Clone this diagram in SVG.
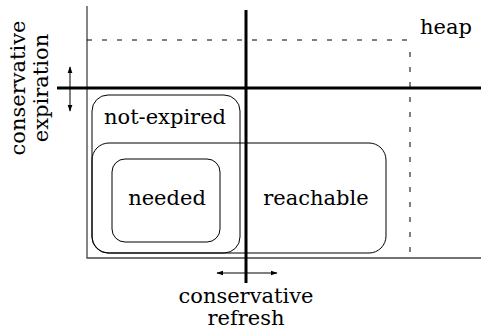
<svg xmlns="http://www.w3.org/2000/svg" width="481" height="330" viewBox="0 0 481 330">
<defs>
<marker id="ah" viewBox="0 0 10 10" refX="9" refY="5" markerWidth="7" markerHeight="7" orient="auto-start-reverse" markerUnits="userSpaceOnUse">
<path d="M0,1.5 L10,5 L0,8.5 z" fill="#000"/>
</marker>
<style>
text{font-family:"DejaVu Serif",serif;font-size:21px;fill:#000}
.ax{stroke:#444;stroke-width:1.3;fill:none}
.thick{stroke:#000;stroke-width:3;fill:none}
.dash{stroke:#000;stroke-width:1;stroke-dasharray:5,10;fill:none}
.set{stroke:#000;stroke-width:1;fill:none}
.arr{stroke:#000;stroke-width:1;fill:none;marker-start:url(#ah);marker-end:url(#ah)}
</style>
</defs>
<rect width="481" height="330" fill="#fff"/>
<g id="connectors">
<path class="ax" d="M87,6 V258 H481"/>
<path class="dash" d="M87,40 H410"/>
<path class="dash" d="M410,52 V254"/>
<path class="thick" d="M246,10 V283"/>
<path class="thick" d="M57,88 H481"/>
<path class="arr" d="M70,67 V111"/>
<path class="arr" d="M217,273 H277"/>
</g>
<g id="not-expired">
<rect class="set" x="92" y="95" width="148" height="158" rx="16"/>
<text x="165" y="124" text-anchor="middle">not-expired</text>
</g>
<g id="reachable">
<rect class="set" x="92" y="143" width="294" height="110" rx="17"/>
<text x="316" y="205" text-anchor="middle">reachable</text>
</g>
<g id="needed">
<rect class="set" x="112" y="159" width="108" height="83" rx="13"/>
<text x="167" y="205" text-anchor="middle">needed</text>
</g>
<g id="heap"><text x="420" y="34">heap</text></g>
<g id="refresh">
<text x="246" y="303" text-anchor="middle">conservative</text>
<text x="246" y="325" text-anchor="middle">refresh</text>
</g>
<g id="expiration">
<text transform="translate(25,88) rotate(-90)" text-anchor="middle">conservative</text>
<text transform="translate(48,88) rotate(-90)" text-anchor="middle">expiration</text>
</g>
</svg>
